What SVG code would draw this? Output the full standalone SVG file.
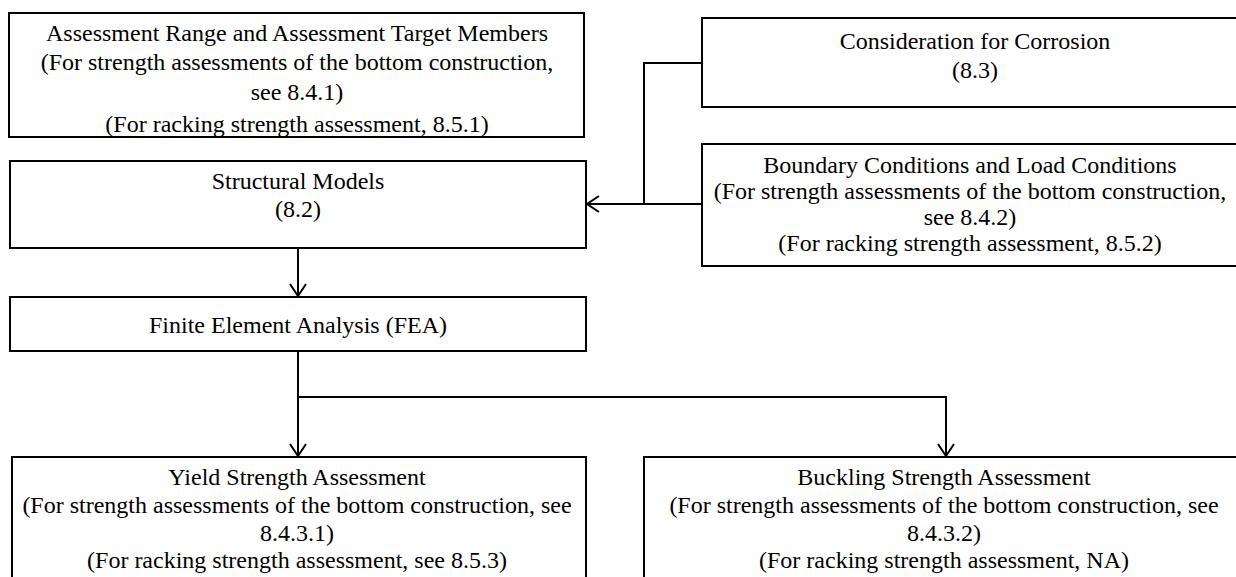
<svg xmlns="http://www.w3.org/2000/svg" width="1236" height="577" viewBox="0 0 1236 577">
<defs>
<style>
.box{fill:#fff;stroke:#000;stroke-width:2}
.t{font-family:"Liberation Serif","Times New Roman",serif;font-size:24px;fill:#000;text-anchor:middle}
.c{fill:none;stroke:#000;stroke-width:2}
</style>
<marker id="arr" markerUnits="userSpaceOnUse" markerWidth="20" markerHeight="20" refX="13" refY="9" orient="auto">
<path d="M1,1 L13,9 L1,17" fill="none" stroke="#000" stroke-width="2"/>
</marker>
<clipPath id="clip1"><rect x="9" y="13" width="575" height="123"/></clipPath>
</defs>
<rect width="1236" height="577" fill="#fff"/>
<g id="connectors">
<path class="c" d="M702,63 H644 V204"/>
<path class="c" d="M702,204 H587" marker-end="url(#arr)"/>
<path class="c" d="M298,248 V296" marker-end="url(#arr)"/>
<path class="c" d="M298,351 V456" marker-end="url(#arr)"/>
<path class="c" d="M298,397 H946 V456" marker-end="url(#arr)"/>
</g>
<g id="n1">
<rect class="box" x="9" y="13" width="575" height="124"/>
<g clip-path="url(#clip1)">
<text class="t" x="297" y="41">Assessment Range and Assessment Target Members</text>
<text class="t" x="297" y="70">(For strength assessments of the bottom construction,</text>
<text class="t" x="297" y="100">see 8.4.1)</text>
<text class="t" x="297" y="132">(For racking strength assessment, 8.5.1)</text>
</g>
</g>
<g id="n2">
<rect class="box" x="702" y="18" width="560" height="89"/>
<text class="t" x="975" y="49">Consideration for Corrosion</text>
<text class="t" x="975" y="78">(8.3)</text>
</g>
<g id="n3">
<rect class="box" x="10" y="161" width="576" height="87"/>
<text class="t" x="298" y="189">Structural Models</text>
<text class="t" x="298" y="217">(8.2)</text>
</g>
<g id="n4">
<rect class="box" x="702" y="144" width="560" height="122"/>
<text class="t" x="970" y="173">Boundary Conditions and Load Conditions</text>
<text class="t" x="970" y="199">(For strength assessments of the bottom construction,</text>
<text class="t" x="970" y="225">see 8.4.2)</text>
<text class="t" x="970" y="251">(For racking strength assessment, 8.5.2)</text>
</g>
<g id="n5">
<rect class="box" x="10" y="297" width="576" height="54"/>
<text class="t" x="298" y="333">Finite Element Analysis (FEA)</text>
</g>
<g id="n6">
<rect class="box" x="12" y="457" width="574" height="140"/>
<text class="t" x="297" y="485">Yield Strength Assessment</text>
<text class="t" x="297" y="513">(For strength assessments of the bottom construction, see</text>
<text class="t" x="297" y="541">8.4.3.1)</text>
<text class="t" x="297" y="568">(For racking strength assessment, see 8.5.3)</text>
</g>
<g id="n7">
<rect class="box" x="644" y="457" width="600" height="140"/>
<text class="t" x="944" y="485">Buckling Strength Assessment</text>
<text class="t" x="944" y="513">(For strength assessments of the bottom construction, see</text>
<text class="t" x="944" y="541">8.4.3.2)</text>
<text class="t" x="944" y="568">(For racking strength assessment, NA)</text>
</g>
</svg>
